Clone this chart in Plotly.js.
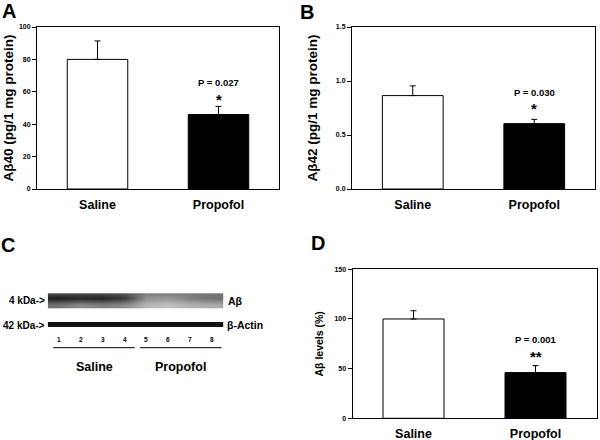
<!DOCTYPE html>
<html>
<head>
<meta charset="utf-8">
<script src="https://cdn.plot.ly/plotly-3.0.1.min.js"></script>
<style>html,body{margin:0;padding:0;background:#fff;}#chart{width:600px;height:440px;}</style>
</head>
<body>
<div id="chart"></div>
<script>
// ---- data ----
const categories = ['Saline', 'Propofol'];
const ab40 = [80, 46];
const ab40Err = [11.4, 5];
const ab42 = [0.865, 0.605];
const ab42Err = [0.09, 0.04];
const abLevels = [100, 46];
const abLevelsErr = [8.3, 7];
const pTexts = ['P = 0.027', 'P = 0.030', 'P = 0.001'];
const stars = ['*', '*', '**'];
const laneLabels = ['1', '2', '3', '4', '5', '6', '7', '8'];
// western blot band darkness per lane (0 = white, 1 = black)
const abTopEdge = [0.72, 0.72, 0.72, 0.68, 0.5, 0.5, 0.52, 0.55];
const abBand = [0.88, 0.84, 0.86, 0.76, 0.42, 0.4, 0.5, 0.56];
const abLower = [0.55, 0.45, 0.5, 0.45, 0.28, 0.25, 0.3, 0.33];
const actinBand = [0.93, 0.92, 0.93, 0.92, 0.92, 0.93, 0.92, 0.92];
const barColors = ['#ffffff', '#000000'];

const FONT = 'Liberation Sans, Arial, sans-serif';
const W = 600, H = 440;
const px = v => v / W;
const py = v => 1 - v / H;

function barTrace(vals, errs, xa, ya) {
  return {
    type: 'bar', x: categories, y: vals, xaxis: xa, yaxis: ya,
    width: 0.5,
    marker: {color: barColors, line: {color: '#000', width: 1}},
    error_y: {type: 'data', array: errs, arrayminus: errs.map(() => 0), symmetric: false,
              color: '#000', thickness: 1, width: 3},
    hoverinfo: 'skip', showlegend: false
  };
}

const laneEdges = Array.from({length: laneLabels.length + 1}, (_, i) => i + 0.5);
const grayScale = [[0, '#ffffff'], [1, '#000000']];
const blotAb = {
  type: 'heatmap', xaxis: 'x4', yaxis: 'y4',
  x: laneEdges, y: [19.7, 27, 33, 34.7],
  z: [abLower, abBand, abTopEdge],
  zmin: 0, zmax: 1, colorscale: grayScale,
  showscale: false, hoverinfo: 'skip', zsmooth: 'best'
};
const blotActin = {
  type: 'heatmap', xaxis: 'x4', yaxis: 'y4',
  x: laneEdges, y: [1.5, 6],
  z: [actinBand],
  zmin: 0, zmax: 1, colorscale: grayScale,
  showscale: false, hoverinfo: 'skip', zsmooth: false
};

const data = [
  barTrace(ab40, ab40Err, 'x', 'y'),
  barTrace(ab42, ab42Err, 'x2', 'y2'),
  barTrace(abLevels, abLevelsErr, 'x3', 'y3'),
  blotAb, blotActin
];

const tickFont = {family: FONT, size: 7, color: '#000', weight: 'bold'};
const catFont = {family: FONT, size: 12.5, color: '#000', weight: 'bold'};
function xAx(dom, anchor) {
  return {domain: dom, anchor: anchor, type: 'category', range: [-0.5, 1.5],
    showline: true, linecolor: '#000', linewidth: 1, mirror: true, ticks: '',
    ticklabelstandoff: 4,
    tickfont: catFont, showgrid: false, zeroline: false, fixedrange: true};
}
function yAx(dom, anchor, range, dtick, fmt, title, size, standoff) {
  return {domain: dom, anchor: anchor, range: range, dtick: dtick, tick0: 0, tickformat: fmt,
    showline: true, linecolor: '#000', linewidth: 1, mirror: true,
    ticks: 'outside', ticklen: 4, tickwidth: 1, tickcolor: '#000',
    tickfont: tickFont, showgrid: false, zeroline: false, fixedrange: true,
    title: {text: '<b>' + title + '</b>', font: {family: FONT, size: size, color: '#000'}, standoff: standoff}};
}

const ann = [];
function txt(text, x, y, size, xref, yref, xanchor) {
  ann.push({text: text, x: x, y: y, xref: xref || 'paper', yref: yref || 'paper',
    showarrow: false, xanchor: xanchor || 'center', yanchor: 'middle',
    font: {family: FONT, size: size, color: '#000', weight: 'bold'}});
}
// panel letters
txt('A', px(9), py(11), 20);
txt('B', px(307), py(12), 20);
txt('C', px(8), py(245), 20);
txt('D', px(318), py(243), 20);
// p values and stars
txt(pTexts[0], 'Propofol', 66, 9.5, 'x', 'y');
txt(stars[0], 'Propofol', 55.5, 15, 'x', 'y');
txt(pTexts[1], 'Propofol', 0.895, 9.5, 'x2', 'y2');
txt(stars[1], 'Propofol', 0.75, 15, 'x2', 'y2');
txt(pTexts[2], 'Propofol', 79, 9.5, 'x3', 'y3');
txt(stars[2], 'Propofol', 62.5, 15, 'x3', 'y3');
// blot labels
txt('4 kDa->', px(47), py(300.5), 10, 'paper', 'paper', 'right');
txt('42 kDa->', px(47), py(325), 10, 'paper', 'paper', 'right');
txt('Aβ', px(226), py(300.5), 10.5, 'paper', 'paper', 'left');
txt('β-Actin', px(225), py(325), 10.5, 'paper', 'paper', 'left');
laneLabels.forEach((l, i) => txt(l, i + 1, py(339), 6.5, 'x4', 'paper'));
txt(categories[0], px(94), py(367), 12.5);
txt(categories[1], px(180), py(367), 12.5);

const layout = {
  width: W, height: H, margin: {l: 0, r: 0, t: 0, b: 0},
  paper_bgcolor: '#fff', plot_bgcolor: '#fff', showlegend: false,
  font: {family: FONT, color: '#000'},
  bargap: 0,
  xaxis: xAx([px(37), px(279)], 'y'),
  yaxis: yAx([py(189), py(27)], 'x', [0, 100], 20, 'd', 'Aβ40 (pg/1 mg protein)', 13.5, 2),
  xaxis2: xAx([px(352), px(595)], 'y2'),
  yaxis2: yAx([py(189), py(27)], 'x2', [0, 1.5], 0.5, '.1f', 'Aβ42 (pg/1 mg protein)', 13.5, 15),
  xaxis3: xAx([px(352.5), px(596.5)], 'y3'),
  yaxis3: yAx([py(418.3), py(269.3)], 'x3', [0, 150], 50, 'd', 'Aβ levels (%)', 10.5, 8),
  xaxis4: {domain: [px(47.7), px(223.3)], anchor: 'y4', range: [0.5, 8.5], visible: false, fixedrange: true},
  yaxis4: {domain: [py(328), py(292)], anchor: 'x4', range: [0, 36], visible: false, fixedrange: true},
  annotations: ann,
  shapes: [
    {type: 'line', xref: 'paper', yref: 'paper', x0: px(53.3), x1: px(134.7), y0: py(347.7), y1: py(347.7), line: {color: '#000', width: 1}},
    {type: 'line', xref: 'paper', yref: 'paper', x0: px(140), x1: px(221.7), y0: py(347.7), y1: py(347.7), line: {color: '#000', width: 1}}
  ]
};

Plotly.newPlot('chart', data, layout, {staticPlot: true, displayModeBar: false});
</script>
</body>
</html>
